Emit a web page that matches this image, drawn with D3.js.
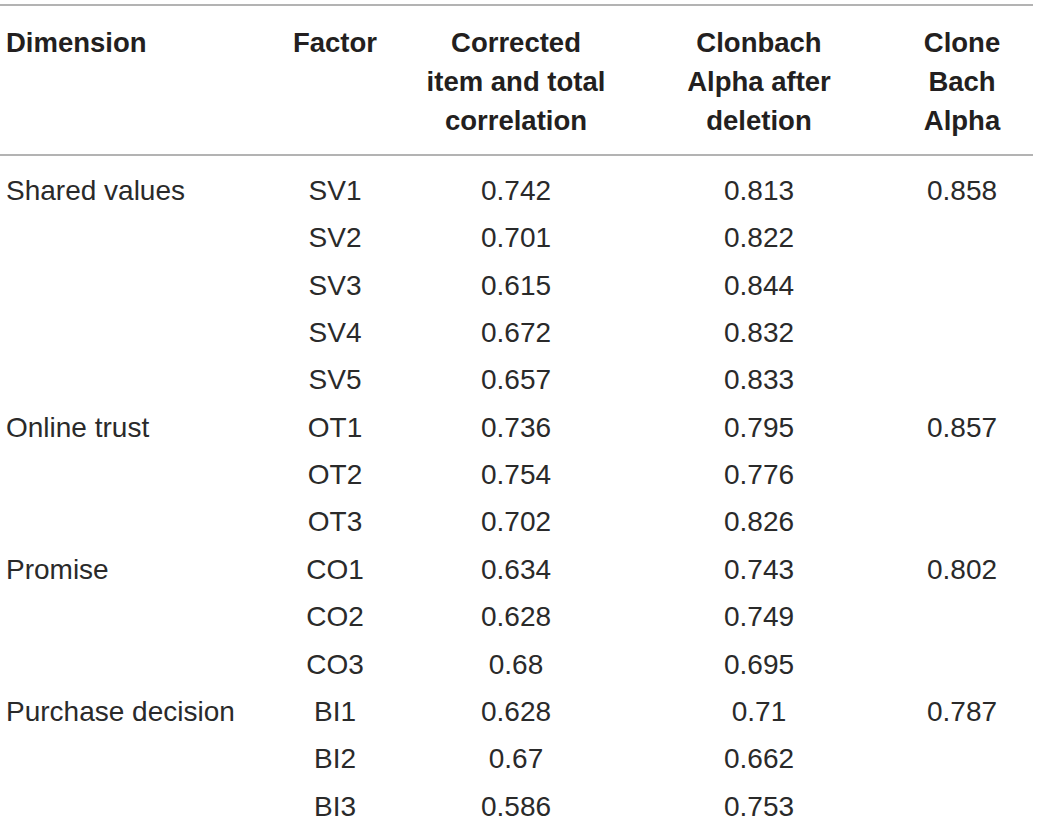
<!DOCTYPE html>
<html>
<head>
<meta charset="utf-8">
<script src="https://cdn.jsdelivr.net/npm/d3@7"></script>
<style>
  body { margin: 0; background: #fff; }
  svg { display: block; font-family: "Liberation Sans", Arial, Helvetica, sans-serif; }
  .head { font-weight: bold; font-size: 27.5px; fill: #231f20; }
  .cell { font-size: 28px; fill: #2a2a2a; }
</style>
</head>
<body>
<div id="chart"></div>
<script>
/* Reliability table drawn with D3 */

const width = 1039, height = 822;

// table values
const headers = [
  ["Dimension"],
  ["Factor"],
  ["Corrected", "item and total", "correlation"],
  ["Clonbach", "Alpha after", "deletion"],
  ["Clone", "Bach", "Alpha"]
];
const dimensions = ["Shared values", "", "", "", "", "Online trust", "", "", "Promise", "", "", "Purchase decision", "", ""];
const factors = ["SV1", "SV2", "SV3", "SV4", "SV5", "OT1", "OT2", "OT3", "CO1", "CO2", "CO3", "BI1", "BI2", "BI3"];
const corrected = ["0.742", "0.701", "0.615", "0.672", "0.657", "0.736", "0.754", "0.702", "0.634", "0.628", "0.68", "0.628", "0.67", "0.586"];
const alphaAfter = ["0.813", "0.822", "0.844", "0.832", "0.833", "0.795", "0.776", "0.826", "0.743", "0.749", "0.695", "0.71", "0.662", "0.753"];
const cloneBach = ["0.858", "", "", "", "", "0.857", "", "", "0.802", "", "", "0.787", "", ""];

const columns = [dimensions, factors, corrected, alphaAfter, cloneBach];

const svg = d3.select("#chart")
  .append("svg")
  .attr("width", width)
  .attr("height", height)
  .attr("viewBox", [0, 0, width, height]);

// column centres (first column is left aligned)
const colX = d3.scaleOrdinal()
  .domain(d3.range(columns.length))
  .range([6, 335, 516, 759, 962]);
const anchor = i => i === 0 ? "start" : "middle";

let rowY = d3.scalePoint()
  .domain(d3.range(factors.length))
  .range([190, 806]);

// header rules
svg.append("line")
  .attr("x1", 0).attr("x2", 1033)
  .attr("y1", 5).attr("y2", 5)
  .attr("stroke", "#9a9a9a")
  .attr("stroke-width", 1.5);

svg.append("line")
  .attr("x1", 0).attr("x2", 1033)
  .attr("y1", 155).attr("y2", 155)
  .attr("stroke", "#9a9a9a")
  .attr("stroke-width", 1.5);

// header text
const headLine = d3.scaleLinear().domain([0, 1]).range([42, 81]);

headers.forEach((h, i) => {
  svg.append("text")
    .attr("class", "head")
    .attr("text-anchor", anchor(i))
    .selectAll("tspan")
    .data(h)
    .join("tspan")
    .attr("x", colX(i))
    .attr("y", (d, j) => headLine(j))
    .attr("dy", "0.35em")
    .text(d => d);
});

// body cells
columns.forEach((col, i) => {
  svg.append("g")
    .selectAll("text")
    .data(col)
    .join("text")
    .attr("class", "cell")
    .attr("text-anchor", anchor(i))
    .attr("x", colX(i))
    .attr("y", (d, j) => rowY(j))
    .attr("dy", "0.35em")
    .text(d => d);
});
</script>
</body>
</html>
